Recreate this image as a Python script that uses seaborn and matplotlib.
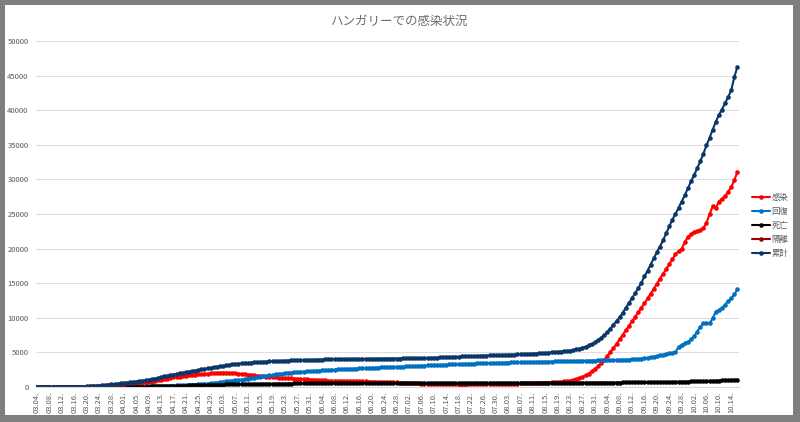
import matplotlib
matplotlib.use("Agg")
import matplotlib.pyplot as plt
from matplotlib.lines import Line2D
from matplotlib.patches import Rectangle
import seaborn as sns
import pandas as pd

title = "ハンガリーでの感染状況"
series_names = ["感染", "回復", "死亡", "隔離", "累計"]
series_colors = ["#FF0000", "#0070C0", "#000000", "#990000", "#0B3768"]

# one value per day, 03.04. .. 10.16.
dates = pd.date_range("2020-03-04", periods=227, freq="D").strftime("%m.%d.").tolist()

active = [
    2, 2, 4, 7, 7, 9, 9, 12, 13, 16, 19, 29, 31, 37, 47, 54,
    68, 78, 93, 118, 150, 165, 198, 225, 255, 285, 330, 360, 390, 420, 460, 490,
    520, 560, 600, 650, 700, 780, 860, 950, 1040, 1130, 1220, 1300, 1380, 1450, 1510, 1570,
    1630, 1680, 1730, 1780, 1820, 1860, 1900, 1940, 1980, 2010, 2040, 2060, 2070, 2060, 2040, 2020,
    1990, 1950, 1900, 1850, 1800, 1750, 1700, 1650, 1600, 1550, 1500, 1460, 1420, 1380, 1340, 1300,
    1280, 1260, 1240, 1220, 1200, 1170, 1140, 1110, 1080, 1050, 1020, 990, 960, 940, 920, 910,
    900, 890, 880, 870, 860, 850, 840, 830, 820, 810, 800, 790, 780, 770, 760, 750,
    740, 720, 700, 680, 660, 640, 620, 600, 580, 560, 540, 520, 500, 480, 460, 440,
    420, 410, 400, 390, 380, 375, 370, 365, 360, 360, 360, 365, 370, 375, 380, 385,
    390, 400, 410, 420, 430, 440, 450, 460, 470, 480, 490, 500, 510, 520, 530, 540,
    550, 560, 575, 590, 610, 630, 660, 690, 720, 760, 800, 850, 920, 1000, 1100, 1250,
    1450, 1700, 1950, 2250, 2600, 3000, 3450, 3950, 4500, 5050, 5650, 6250, 6900, 7550, 8200, 8850,
    9500, 10150, 10800, 11450, 12100, 12800, 13500, 14200, 14900, 15650, 16350, 17050, 17750, 18450, 19150, 19600,
    20000, 20900, 21700, 22100, 22400, 22500, 22700, 22950, 23700, 25000, 26100, 25800, 26800, 27200, 27600,
    28200, 28900, 29900, 31100,
]

recovered = [
    0, 0, 0, 0, 0, 0, 0, 0, 0, 0, 0, 0, 0, 0, 1, 1,
    1, 1, 2, 2, 3, 6, 10, 15, 20, 25, 30, 35, 40, 45, 50, 52,
    55, 60, 65, 70, 80, 90, 100, 110, 130, 150, 170, 190, 210, 230, 250, 270,
    290, 310, 330, 360, 390, 420, 460, 500, 540, 580, 630, 680, 740, 800, 850, 900,
    960, 1020, 1080, 1140, 1200, 1270, 1340, 1410, 1480, 1550, 1620, 1690, 1760, 1820, 1880, 1940,
    2000, 2050, 2090, 2130, 2170, 2200, 2230, 2260, 2290, 2320, 2350, 2380, 2410, 2440, 2470, 2500,
    2520, 2540, 2560, 2580, 2600, 2620, 2640, 2660, 2680, 2700, 2720, 2740, 2760, 2780, 2800, 2820,
    2840, 2860, 2880, 2900, 2920, 2940, 2960, 2980, 3000, 3020, 3040, 3060, 3080, 3100, 3120, 3140,
    3160, 3180, 3200, 3220, 3240, 3260, 3280, 3300, 3315, 3330, 3345, 3360, 3375, 3390, 3405, 3420,
    3435, 3450, 3465, 3480, 3495, 3510, 3520, 3530, 3540, 3550, 3560, 3570, 3580, 3590, 3600, 3610,
    3620, 3630, 3640, 3650, 3660, 3670, 3680, 3690, 3700, 3710, 3720, 3730, 3740, 3750, 3760, 3770,
    3780, 3790, 3800, 3810, 3820, 3830, 3840, 3850, 3860, 3870, 3880, 3890, 3900, 3920, 3940, 3960,
    3980, 4010, 4050, 4100, 4160, 4230, 4300, 4380, 4460, 4560, 4660, 4760, 4860, 4950, 5050, 5800,
    6100, 6300, 6500, 6900, 7300, 8000, 8700, 9200, 9250, 9200, 9900, 10900, 11100, 11400, 11900,
    12400, 12800, 13400, 14100,
]

deaths = [
    0, 0, 0, 0, 0, 0, 0, 0, 0, 0, 0, 1, 1, 1, 1, 1,
    3, 4, 4, 6, 7, 9, 10, 10, 11, 13, 15, 16, 20, 21, 26, 32,
    34, 38, 46, 58, 66, 77, 85, 91, 99, 109, 122, 134, 142, 156, 172, 189,
    213, 225, 239, 262, 272, 280, 291, 300, 312, 321, 329, 340, 351, 363, 373, 383,
    392, 405, 413, 421, 425, 430, 436, 442, 448, 451, 460, 462, 467, 473, 482, 490,
    491, 499, 505, 509, 517, 520, 524, 526, 527, 533, 534, 538, 539, 541, 543, 545,
    546, 548, 551, 553, 554, 555, 559, 561, 563, 565, 566, 567, 568, 570, 571, 572,
    573, 573, 575, 577, 578, 581, 583, 585, 586, 587, 588, 588, 589, 591, 592, 593,
    593, 594, 595, 595, 596, 596, 597, 597, 598, 598, 599, 599, 600, 600, 601, 601,
    602, 602, 603, 603, 604, 604, 605, 605, 606, 606, 607, 607, 608, 608, 609, 610,
    610, 611, 612, 612, 613, 613, 614, 614, 615, 616, 617, 618, 619, 620, 622, 624,
    625, 627, 628, 629, 630, 632, 634, 636, 638, 640, 643, 646, 649, 652, 655, 658,
    662, 666, 670, 675, 680, 685, 690, 696, 702, 708, 715, 722, 730, 740, 750, 760,
    770, 780, 790, 800, 812, 825, 838, 850, 865, 880, 895, 910, 925, 945, 965,
    985, 1010, 1040, 1070,
]

# only reported for the first weeks
isolation = [
    0, 0, 0, 0, 0, 0, 0, 0, 0, 0, 0, 0, 0, 0, 0, 0,
    10, 20, 30, 50, 70, 90, 110, 130, 150, 170, 190, 210, 230,
]

total = [
    2, 2, 4, 7, 7, 9, 9, 12, 13, 16, 19, 30, 32, 39, 50, 58,
    80, 100, 120, 150, 190, 230, 280, 330, 390, 440, 490, 540, 590, 640, 690, 730,
    780, 830, 900, 960, 1030, 1120, 1220, 1320, 1430, 1530, 1630, 1720, 1800, 1880, 1960, 2040,
    2120, 2200, 2290, 2380, 2470, 2550, 2620, 2690, 2760, 2830, 2900, 2970, 3040, 3120, 3200, 3270,
    3320, 3370, 3410, 3450, 3490, 3530, 3560, 3590, 3620, 3650, 3680, 3700, 3720, 3740, 3760, 3780,
    3800, 3815, 3830, 3845, 3860, 3880, 3895, 3910, 3925, 3935, 3945, 3955, 3965, 3975, 3985, 3995,
    4000, 4010, 4015, 4020, 4030, 4035, 4040, 4045, 4050, 4055, 4060, 4065, 4070, 4075, 4080, 4085,
    4090, 4095, 4100, 4105, 4110, 4115, 4120, 4130, 4140, 4150, 4160, 4170, 4180, 4190, 4200, 4215,
    4230, 4250, 4270, 4290, 4310, 4330, 4350, 4370, 4390, 4410, 4430, 4450, 4465, 4480, 4495, 4510,
    4525, 4540, 4555, 4570, 4585, 4600, 4615, 4630, 4650, 4670, 4690, 4710, 4730, 4750, 4770, 4790,
    4810, 4835, 4860, 4890, 4920, 4960, 5000, 5040, 5080, 5120, 5160, 5210, 5270, 5340, 5430, 5550,
    5680, 5830, 6000, 6200, 6450, 6750, 7100, 7500, 7950, 8450, 9000, 9550, 10100, 10750, 11450, 12150,
    12850, 13550, 14300, 15050, 16000, 16800, 17700, 18600, 19500, 20300, 21200, 22200, 23200, 24200, 25000, 25900,
    26800, 27700, 28700, 29700, 30600, 31600, 32600, 33700, 34900, 36000, 37200, 38300, 39300, 40100, 41000,
    41900, 42900, 44800, 46300,
]

tick_pos = list(range(0, 227, 4))
tick_labels = [dates[i] for i in tick_pos]
y_ticks = [0, 5000, 10000, 15000, 20000, 25000, 30000, 35000, 40000, 45000, 50000]

frames = []
for name, vals in zip(series_names, [active, recovered, deaths, isolation, total]):
    frames.append(pd.DataFrame({"day": range(len(vals)), "value": vals, "series": name}))
df = pd.concat(frames, ignore_index=True)

sns.set_theme(style="white")
plt.rcParams['font.family'] = ['Noto Sans CJK JP', 'DejaVu Sans']

fig = plt.figure(figsize=(8, 4.22), dpi=100, facecolor="#7f7f7f")
fig.add_artist(Rectangle((4.5 / 800, 7 / 422), 788.5 / 800, 410 / 422,
                         transform=fig.transFigure, facecolor="white", edgecolor="none", zorder=-1))
ax = fig.add_axes([35.5 / 800, 35 / 422, 703.5 / 800, 346 / 422])
ax.set_facecolor("none")

sns.lineplot(data=df, x="day", y="value", hue="series", hue_order=series_names,
             palette=series_colors, estimator=None, marker="o", markersize=3.3,
             markeredgewidth=0, linewidth=1.5, legend=False, ax=ax)

ax.set_xlim(-0.5, 226.5)
ax.set_ylim(0, 50000)
ax.set_xticks(tick_pos)
ax.set_xticklabels(tick_labels, rotation=90)
ax.set_yticks(y_ticks)
ax.set_yticklabels([str(v) for v in y_ticks])
ax.set_xlabel("")
ax.set_ylabel("")
ax.yaxis.grid(True, color="#dedede", linewidth=0.8)
ax.set_axisbelow(True)
for s in ["top", "left", "right"]:
    ax.spines[s].set_visible(False)
ax.spines["bottom"].set_color("#d9d9d9")
ax.spines["bottom"].set_linewidth(0.8)
ax.tick_params(axis="both", length=0, labelsize=5.5, labelcolor="#595959")
ax.tick_params(axis="x", pad=3.5)
ax.tick_params(axis="y", pad=5)

fig.text(0.499, 0.950, title, ha="center", va="center", fontsize=9, color="#6b6b6b")

handles = [Line2D([0], [0], color=c, lw=1.5, marker="o", markersize=3.3, markeredgewidth=0)
           for c in series_colors]
leg = fig.legend(handles, series_names, loc="center left", bbox_to_anchor=(752 / 800, 0.4668),
                 frameon=False, fontsize=6, handlelength=2.2, handletextpad=0.15,
                 labelspacing=0.6, borderpad=0, borderaxespad=0)
for t in leg.get_texts():
    t.set_color("#595959")

plt.savefig("out.png", dpi=100, facecolor=fig.get_facecolor())
